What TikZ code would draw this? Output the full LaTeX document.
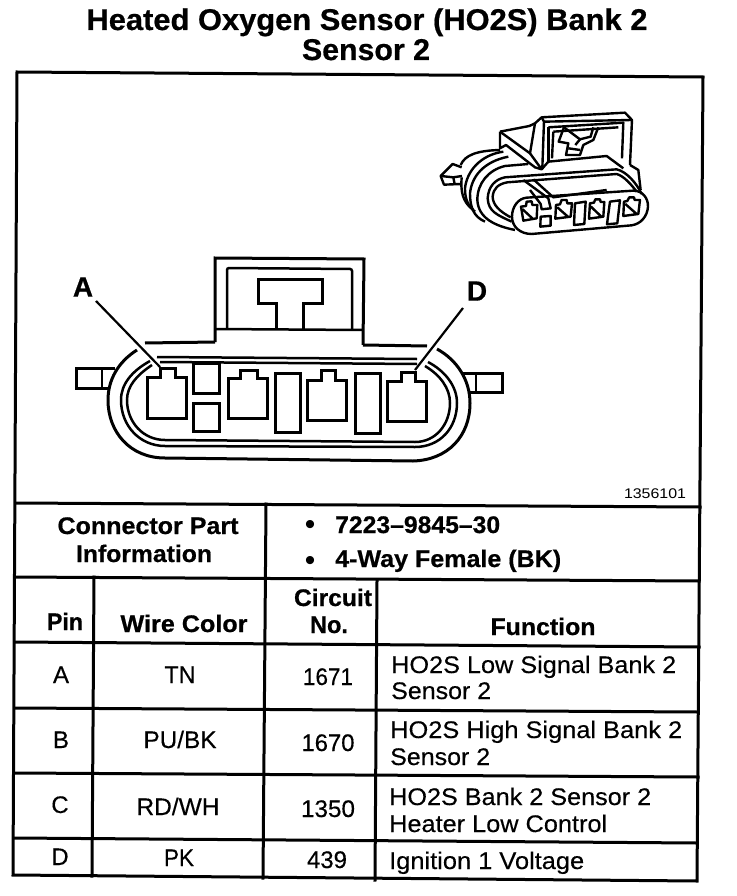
\documentclass[tikz,border=0pt]{standalone}
\usepackage{fontspec}
\usepackage{graphicx}
\setmainfont[BoldFont={Liberation Sans Bold},BoldFeatures={FakeBold=0.6}]{Liberation Sans}
\newfontfamily\bodyfont[FakeBold=0.35]{Liberation Sans}
\newcommand\fw[2]{\resizebox{#1pt}{\height}{#2}}
\tikzset{
  grid/.style={line width=3pt,line cap=rect},
  part/.style={line width=3pt,line join=miter},
  thinp/.style={line width=2.5pt},
  mini/.style={line width=2.4pt,line join=round},
  lab/.style={inner sep=0pt,anchor=base,font=\bodyfont\fontsize{24}{24}\selectfont},
  labl/.style={inner sep=0pt,anchor=base west,font=\bodyfont\fontsize{24}{24}\selectfont},
  blab/.style={inner sep=0pt,anchor=base,font=\fontsize{24}{24}\selectfont\bfseries},
  blabl/.style={inner sep=0pt,anchor=base west,font=\fontsize{24}{24}\selectfont\bfseries},
  ttl/.style={inner sep=0pt,anchor=base,font=\fontsize{30}{30}\selectfont\bfseries},
  callout/.style={inner sep=0pt,anchor=center,font=\fontsize{28}{28}\selectfont\bfseries},
}
\begin{document}
\begin{tikzpicture}[x=1pt,y=-1pt]
\useasboundingbox (0,0) rectangle (736,896);
\fill[white] (0,0) rectangle (736,896);
% title
\node[ttl] (t1) at (367,30) {\fw{561}{Heated Oxygen Sensor (HO2S) Bank 2}};
\node[ttl] (t2) at (366,60) {\fw{128}{Sensor 2}};
% frame and grid
\draw[grid] (17,72) -- (703,77) -- (697,881) -- (13,875) -- cycle;
\draw[grid] (16,503) -- (700,507);
\draw[grid] (15,577) -- (699,581);
\draw[grid] (15,642) -- (699,647);
\draw[grid] (15,708) -- (698,712);
\draw[grid] (15,773) -- (698,777);
\draw[grid] (14,838) -- (697,843);
\draw[grid] (266,504) -- (263,878);
\draw[grid] (94,577) -- (92,876);
\draw[grid] (377,581) -- (375,880);
% table text
\node[inner sep=0pt,anchor=base,font=\fontsize{14}{14}\selectfont] (ref) at (655,498) {\fw{62}{1356101}};
\node[blab] (cp1) at (148,534) {\fw{181}{Connector Part}};
\node[blab] (cp2) at (144,562) {\fw{136}{Information}};
\node[inner sep=0pt,anchor=base,font=\fontsize{30}{30}\selectfont] (b1) at (310,534.5) {•};
\node[inner sep=0pt,anchor=base,font=\fontsize{30}{30}\selectfont] (b2) at (310,570.5) {•};
\node[blabl] (pn) at (335,533) {\fw{165}{7223–9845–30}};
\node[blabl] (wy) at (335,567) {\fw{226}{4-Way Female (BK)}};
\node[blab] (hp) at (65,630) {\fw{36}{Pin}};
\node[blab] (hw) at (184,632) {\fw{127}{Wire Color}};
\node[blab] (hc) at (333,606) {\fw{78}{Circuit}};
\node[blab] (hn) at (329,633) {\fw{38}{No.}};
\node[blab] (hf) at (543,635) {\fw{105}{Function}};
\node[lab] (pa) at (61,683) {A};
\node[lab] (ca) at (180,683) {\fw{31}{TN}};
\node[lab] (na) at (328,685) {\fw{50}{1671}};
\node[lab] (pb) at (61,748) {B};
\node[lab] (cb) at (180,748) {\fw{73}{PU/BK}};
\node[lab] (nb) at (328,751) {\fw{53}{1670}};
\node[lab] (pc) at (60,813) {C};
\node[lab] (cc) at (178,815) {\fw{83}{RD/WH}};
\node[lab] (nc) at (328,817) {\fw{54}{1350}};
\node[lab] (pd) at (60,865) {D};
\node[lab] (cd) at (179,866) {\fw{30}{PK}};
\node[lab] (nd) at (327,868) {\fw{40}{439}};
\node[labl] (f1) at (391,673) {\fw{285}{HO2S Low Signal Bank 2}};
\node[labl] (f1b) at (391,699) {\fw{100}{Sensor 2}};
\node[labl] (f2) at (390,738) {\fw{292}{HO2S High Signal Bank 2}};
\node[labl] (f2b) at (390,765) {\fw{100}{Sensor 2}};
\node[labl] (f3) at (389,805) {\fw{262}{HO2S Bank 2 Sensor 2}};
\node[labl] (f3b) at (389,832) {\fw{218}{Heater Low Control}};
\node[labl] (f4) at (389,869) {\fw{195}{Ignition 1 Voltage}};
% big connector: latch
\draw[part] (215,342) -- (215,258) -- (364,259) -- (363,345);
\draw[thinp,rounded corners=2pt] (227,329) -- (227,268) -- (352,269) -- (352,330);
\draw[thinp] (215,329) -- (363,330);
\draw[part] (276,329) -- (276,303) -- (258,303) -- (258,279) -- (322,279) -- (322,303) -- (303,303) -- (303,329);
% tabs
\draw[part] (115,368) -- (76,368) -- (76,388) -- (108,388);
\draw[thinp] (102,368) -- (102,388);
\draw[part] (463,373) -- (502,373) -- (502,392) -- (470,392);
\draw[thinp] (476,373) -- (476,392);
% shell
\draw[part] (145,343) -- (215,342) (363,345) -- (427,346);
\draw[part] (137,350) .. controls (118,362) and (108,380) .. (108,400)
  .. controls (108,432) and (130,458) .. (165,458) -- (413,461)
  .. controls (448,460) and (470,436) .. (470,403)
  .. controls (470,380) and (457,360) .. (437,349);
\draw[thinp] (157,357) -- (417,359);
\draw[thinp] (160,362) -- (417,364);
\draw[thinp] (150,361) .. controls (132,371) and (121,384) .. (121,400)
  .. controls (121,426) and (140,446) .. (165,446) -- (415,447)
  .. controls (440,447) and (457,428) .. (457,403)
  .. controls (457,386) and (445,371) .. (428,362);
\draw[thinp] (152,365) .. controls (137,375) and (127,386) .. (127,400)
  .. controls (127,422) and (143,440) .. (165,440) -- (415,442)
  .. controls (436,442) and (450,424) .. (450,403)
  .. controls (450,388) and (440,375) .. (425,366);
% terminals and slots
\draw[part] (147,377) -- (160,377) -- (160,368) -- (175,368) -- (175,377) -- (186,377) -- (186,418) -- (147,418) -- cycle;
\draw[part] (228,378) -- (240,378) -- (240,370) -- (257,370) -- (257,378) -- (267,378) -- (267,418) -- (228,418) -- cycle;
\draw[part] (307,380) -- (321,380) -- (321,370) -- (335,370) -- (335,380) -- (346,380) -- (346,420) -- (307,420) -- cycle;
\draw[part] (387,381) -- (401,381) -- (401,372) -- (415,372) -- (415,381) -- (426,381) -- (426,421) -- (387,421) -- cycle;
\draw[part] (193,363) rectangle (219,393);
\draw[part] (193,403) rectangle (219,431);
\draw[part] (275,373) rectangle (300,432);
\draw[part] (355,373) rectangle (380,433);
% labels and leaders
\node[callout] (la) at (83,287) {A};
\node[callout] (ld) at (477,291) {D};
\coordinate (ea) at (160,367);
\coordinate (ed) at (415,370);
\coordinate (sa) at (96,301);
\coordinate (sd) at (463,308);
\draw[line width=2.2pt] (sa) -- (ea);
\draw[line width=2.2pt] (sd) -- (ed);
% small perspective connector
\begin{scope}[xshift=420pt,yshift=-90pt,x=0.3333pt,y=-0.3333pt]
% front face
\draw[mini] (320,323) -- (640,302) .. controls (668,302) and (685,325) .. (684,350)
  .. controls (682,380) and (662,402) .. (635,406) -- (335,432)
  .. controls (300,432) and (276,410) .. (276,380) .. controls (276,350) and (295,325) .. (320,323);
% terminals
\draw[mini] (303,350) -- (318,348) -- (320,335) -- (335,334) -- (337,345) -- (352,345) -- (350,385) -- (310,392) -- cycle (308,358) -- (340,388);
\draw[mini] (408,345) -- (420,343) -- (425,330) -- (440,330) -- (442,340) -- (456,340) -- (452,380) -- (406,386) -- cycle (412,352) -- (446,382);
\draw[mini] (510,340) -- (522,338) -- (526,328) -- (540,328) -- (542,336) -- (553,336) -- (550,380) -- (507,386) -- cycle (513,350) -- (544,380);
\draw[mini] (612,335) -- (622,333) -- (628,322) -- (642,322) -- (644,330) -- (660,330) -- (655,372) -- (610,378) -- cycle (616,342) -- (650,372);
\draw[mini] (362,380) -- (392,378) -- (392,407) -- (361,410) -- cycle;
\draw[mini] (465,340) -- (497,335) -- (493,402) -- (462,405) -- cycle;
\draw[mini] (570,335) -- (600,331) -- (592,400) -- (561,403) -- cycle;
% key
\draw[mini] (310,270) -- (385,325) -- (392,355) -- (365,358) -- (362,342) -- (330,300);
\draw[mini] (340,268) -- (400,322) -- (560,300);
% rings
\draw[mini] (275,395) .. controls (232,375) and (205,365) .. (203,325) .. controls (205,290) and (225,268) .. (255,262) -- (590,238) .. controls (620,245) and (650,280) .. (665,312);
\draw[mini] (272,382) .. controls (240,365) and (218,345) .. (218,320) .. controls (220,295) and (235,282) .. (262,277) -- (590,252) .. controls (612,258) and (635,285) .. (650,305);
\draw[mini] (285,420) .. controls (225,408) and (175,385) .. (172,330) .. controls (172,280) and (205,240) .. (255,228) -- (325,222);
\draw[mini] (195,395) .. controls (160,380) and (150,350) .. (150,310) .. controls (155,260) and (190,215) .. (265,200);
\draw[mini] (165,365) .. controls (140,345) and (135,320) .. (135,295) .. controls (140,245) and (180,195) .. (250,185);
\draw[mini] (160,360) .. controls (125,335) and (122,300) .. (125,262);
\draw[mini] (122,225) .. controls (135,195) and (170,182) .. (240,180);
% back tab
\draw[mini] (125,232) -- (98,222) -- (62,258) -- (72,284) -- (125,282);
\draw[mini] (62,258) -- (100,262) -- (126,258);
\draw[mini] (100,262) -- (104,282);
% latch
\draw[mini] (240,125) -- (240,175) -- (258,165) -- (345,232) -- (365,238) -- (385,215) -- (560,198) -- (610,235);
\draw[mini] (240,125) -- (328,108) -- (345,100) -- (365,82) -- (615,68) -- (636,90) -- (630,225);
\draw[mini] (240,125) -- (330,190) -- (345,100);
\draw[mini] (330,190) -- (365,238);
\draw[mini] (365,82) -- (372,95) -- (636,90);
\draw[mini] (372,95) -- (367,235);
\draw[mini] (385,112) -- (610,98) -- (606,205);
\draw[mini] (385,112) -- (385,215);
\draw[mini] (400,125) -- (595,112);
\draw[mini] (400,125) -- (396,205);
\draw[mini] (630,225) -- (655,240) -- (662,300);
% T figure in the window
\draw[mini] (432,112) -- (416,155) -- (445,160) -- (438,195) -- (480,195) -- (490,165) -- (520,150) -- (535,112);
\draw[mini] (432,112) -- (480,148) -- (512,140) -- (520,112);
\draw[mini] (445,175) -- (480,180);
\draw[mini] (480,148) -- (466,165);
\end{scope}
\end{tikzpicture}
\end{document}
